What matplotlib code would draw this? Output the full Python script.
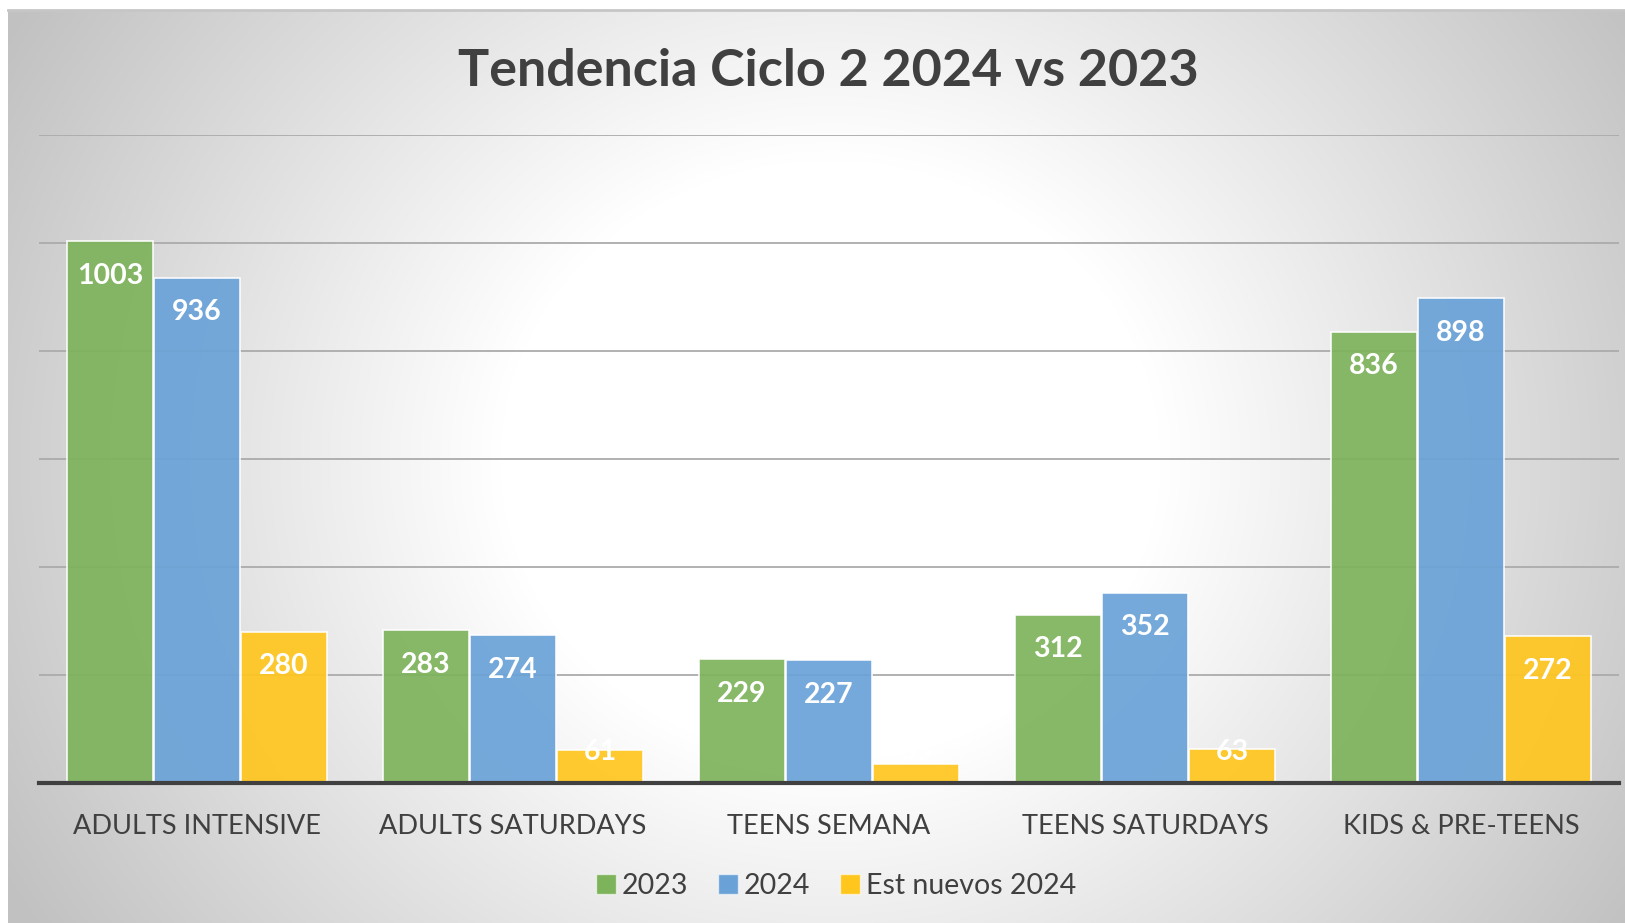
import numpy as np
import matplotlib
matplotlib.use("Agg")
import matplotlib.pyplot as plt
from matplotlib.patches import Patch

categories = ["ADULTS INTENSIVE", "ADULTS SATURDAYS", "TEENS SEMANA",
              "TEENS SATURDAYS", "KIDS & PRE-TEENS"]
series_names = ["2023", "2024", "Est nuevos 2024"]
values_2023 = [1003, 283, 229, 312, 836]
values_2024 = [936, 274, 227, 352, 898]
values_new = [280, 61, 35, 63, 272]
colors = ["#7DB35B", "#6AA2D8", "#FFC61E"]

plt.rcParams['font.family'] = ['Lato', 'DejaVu Sans']
text_color = "#404040"

W, H = 1625, 923
fig = plt.figure(figsize=(W / 100, H / 100), dpi=100)
fig.patch.set_facecolor("white")

# radial gradient background of the chart area
bg = fig.add_axes([8 / W, 0, 1 - 8 / W, 1 - 10 / H])
yy, xx = np.mgrid[0:913, 0:1617]
d = np.hypot(xx - 822, (yy - 450) * 1.1)
shade = 255 - 62 * np.clip((d - 330) / 620, 0, 1)
img = np.dstack([shade, shade, shade]) / 255
bg.imshow(img, aspect="auto", extent=[0, 1, 0, 1], interpolation="bilinear")
bg.axis("off")
fig.add_artist(plt.Line2D([8 / W, 1], [1 - 10 / H, 1 - 10 / H],
                          color="#c6c6c6", lw=2, transform=fig.transFigure))

ax = fig.add_axes([39 / W, 140 / H, 1580 / W, 648 / H])
ax.patch.set_alpha(0)

x = np.arange(len(categories))
width = 0.272
offsets = [-0.275, 0, 0.275]
all_series = [values_2023, values_2024, values_new]

for vals, off, col in zip(all_series, offsets, colors):
    ax.bar(x + off, vals, width, color=col, alpha=0.92,
           edgecolor=(1, 1, 1, 0.6), linewidth=1.2, zorder=3)
    for xi, v in zip(x + off, vals):
        ax.text(xi, max(v - 64, 58), str(v), ha="center", va="center",
                color="white", fontsize=20.5, fontweight="bold", zorder=4)

ax.set_ylim(0, 1200)
ax.set_xlim(-0.5, len(categories) - 0.5)
ax.set_yticks(range(200, 1201, 200))
ax.yaxis.grid(True, color="#ababab", linewidth=1.3, zorder=1)
ax.set_axisbelow(True)
ax.tick_params(axis="y", left=False, labelleft=False)
ax.tick_params(axis="x", bottom=False, pad=19)
ax.set_xticks(x)
ax.set_xticklabels(categories, fontsize=19.5, color=text_color)
for s in ["top", "right", "left"]:
    ax.spines[s].set_visible(False)
ax.spines["bottom"].set_color("#404040")
ax.spines["bottom"].set_linewidth(3)
ax.spines["bottom"].set_zorder(5)

fig.text(828 / W, 1 - 71 / H, "Tendencia Ciclo 2 2024 vs 2023", ha="center",
         va="center", fontsize=37.5, fontweight="bold", color=text_color)

handles = [Patch(facecolor=c, edgecolor=(1, 1, 1, 0.6)) for c in colors]
leg = fig.legend(handles, series_names, loc="center", bbox_to_anchor=(836 / W, 1 - 886 / H),
                 ncol=3, frameon=False, fontsize=20.5, handlelength=0.7, handleheight=0.7,
                 handletextpad=0.2, columnspacing=1.05)
for t in leg.get_texts():
    t.set_color(text_color)

fig.savefig("out.png", dpi=100)
